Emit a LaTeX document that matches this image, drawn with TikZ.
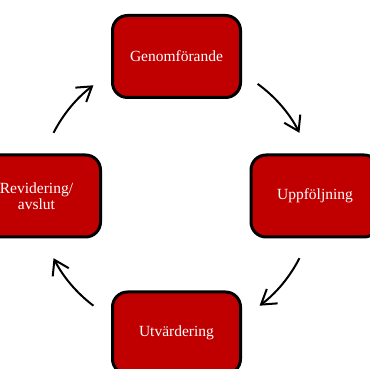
\documentclass[tikz,border=0pt]{standalone}
\usepackage{fontspec}
\setmainfont{Liberation Serif}
\usetikzlibrary{arrows.meta}
\definecolor{boxred}{HTML}{C00000}
\begin{document}
\begin{tikzpicture}[x=1pt,y=1pt,
  phase/.style={draw=black, line width=3pt, fill=boxred, rounded corners=15pt,
    minimum width=128pt, minimum height=82pt, text=white,
    font=\fontsize{15.5}{16}\selectfont, align=center, inner sep=0pt},
  cyc/.style={line width=2pt, -{Straight Barb[length=14pt,width=18pt,line width=2pt]}}]
\useasboundingbox (0,0) rectangle (370,369);
\coordinate (c) at (176.5,173.5);
\node[phase] (gen) at (176.5,312.5) {Genomförande};
\node[phase] (upp) at (315,173) {Uppföljning};
\node[phase] (utv) at (176.5,36) {Utvärdering};
\node[phase] (rev) at (36.5,173) {Revidering/\\avslut};
\draw[cyc] ([shift={(153:138)}]c) arc[start angle=153,end angle=127,radius=138];
\draw[cyc] ([shift={(54:138)}]c) arc[start angle=54,end angle=27,radius=138];
\draw[cyc] ([shift={(-27:138)}]c) arc[start angle=-27,end angle=-53,radius=138];
\draw[cyc] ([shift={(-127:138)}]c) arc[start angle=-127,end angle=-153,radius=138];
\end{tikzpicture}
\end{document}
